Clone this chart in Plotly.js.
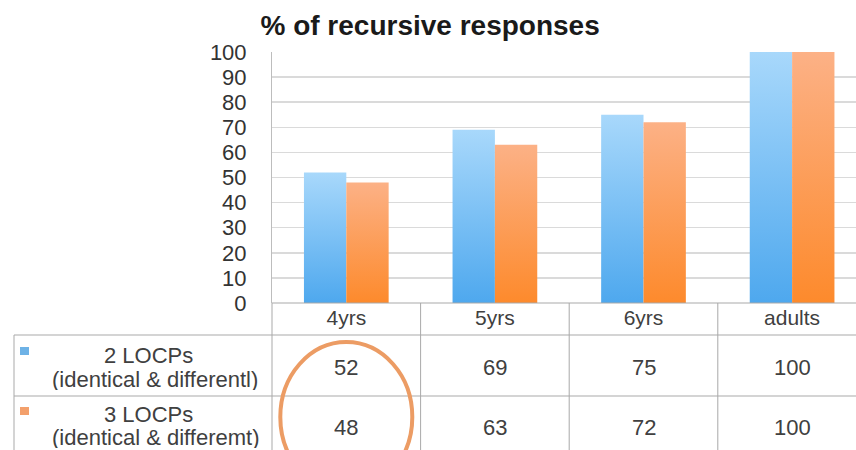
<!DOCTYPE html>
<html>
<head>
<meta charset="utf-8">
<script src="https://cdn.plot.ly/plotly-3.0.1.min.js"></script>
<style>html,body{margin:0;padding:0;background:#fff;overflow:hidden;}</style>
</head>
<body>
<div id="chart" style="width:856px;height:450px;"></div>
<script>
// ---- data ----
const categories = ['4yrs', '5yrs', '6yrs', 'adults'];
const series1Name = '2 LOCPs';
const series1Sub = '(identical & differentl)';
const series1Values = [52, 69, 75, 100];
const series2Name = '3 LOCPs';
const series2Sub = '(identical & differemt)';
const series2Values = [48, 63, 72, 100];
const yTicks = [0, 10, 20, 30, 40, 50, 60, 70, 80, 90, 100];

// ---- layout constants ----
const W = 856, H = 450;
const L = 272, R = 0, T = 52, B = 147;
const PW = W - L - R, PH = H - T - B;
const XMIN = -0.5, XMAX = 3.43;
const FONT = 'Liberation Sans, Arial, sans-serif';
const px = v => (v - L) / PW;          // pixel x -> paper
const py = v => (H - B - v) / PH;      // pixel y -> paper
const cx = v => (v - XMIN) / (XMAX - XMIN); // category value -> paper x
const lineCol = '#a9a9a9';

const traces = [
  {type: 'bar', name: series1Name, x: categories, y: series1Values,
   marker: {color: '#74bbf3', line: {width: 0}}, hoverinfo: 'none'},
  {type: 'bar', name: series2Name, x: categories, y: series2Values,
   marker: {color: '#fc9c55', line: {width: 0}}, hoverinfo: 'none'}
];

const shapes = [];
function hline(x0, x1, y) {
  shapes.push({type: 'line', xref: 'paper', yref: 'paper', x0: px(x0), x1: px(x1), y0: py(y), y1: py(y),
               line: {color: lineCol, width: 1}, layer: 'above'});
}
function vline(xp, y0, y1) {
  shapes.push({type: 'line', xref: 'paper', yref: 'paper', x0: xp, x1: xp, y0: py(y0), y1: py(y1),
               line: {color: lineCol, width: 1}, layer: 'above'});
}
// table grid
hline(L, W + 5, 303);
hline(14, W + 5, 335);
hline(14, W + 5, 396);
vline(px(14), 335, 460);
vline(0, 303, 460);
for (let i = 0; i < categories.length - 1; i++) vline(cx(i + 0.5), 303, 460);
// legend keys
shapes.push({type: 'rect', xref: 'paper', yref: 'paper', x0: px(20), x1: px(29), y0: py(347), y1: py(355),
             fillcolor: '#6eb2e6', line: {width: 0}});
shapes.push({type: 'rect', xref: 'paper', yref: 'paper', x0: px(20), x1: px(29), y0: py(407), y1: py(415),
             fillcolor: '#f3a06c', line: {width: 0}});
// highlight ellipse around the first column
const c0 = L + cx(0) * PW;
shapes.push({type: 'circle', xref: 'paper', yref: 'paper', x0: px(c0 - 66), x1: px(c0 + 66),
             y0: py(342), y1: py(492), line: {color: '#ec9c64', width: 4}, layer: 'above'});

const annotations = [];
const txtCol = '#404040';
function rowLabel(text, x, y) {
  annotations.push({xref: 'paper', yref: 'paper', x: px(x), y: py(y), text: text, showarrow: false,
                    xanchor: 'center', yanchor: 'middle', align: 'center', height: 22,
                    font: {family: FONT, size: 22, color: txtCol}});
}
rowLabel(series1Name, 148, 355);
rowLabel(series1Sub, 155, 379);
rowLabel(series2Name, 148, 414);
rowLabel(series2Sub, 155, 437);
categories.forEach((c, i) => {
  annotations.push({xref: 'x', yref: 'paper', x: c, y: py(367), text: String(series1Values[i]), showarrow: false,
                    xanchor: 'center', yanchor: 'middle', font: {family: FONT, size: 22, color: txtCol}});
  annotations.push({xref: 'x', yref: 'paper', x: c, y: py(427), text: String(series2Values[i]), showarrow: false,
                    xanchor: 'center', yanchor: 'middle', font: {family: FONT, size: 22, color: txtCol}});
});

const layout = {
  width: W, height: H,
  margin: {l: L, r: R, t: T, b: B, pad: 0},
  paper_bgcolor: '#fff', plot_bgcolor: '#fff',
  showlegend: false,
  barmode: 'group', bargap: 0.43, bargroupgap: 0,
  title: {text: '<b>% of recursive responses</b>', x: 0.5025, xref: 'container', xanchor: 'center',
          y: 1 - 25 / H, yref: 'container', yanchor: 'middle',
          font: {family: FONT, size: 28, color: '#1a1a1a'}},
  xaxis: {type: 'category', range: [XMIN, XMAX], showgrid: false, zeroline: false, showline: false,
          ticks: '',
          tickfont: {family: FONT, size: 21, color: txtCol}, fixedrange: true},
  yaxis: {range: [0, 100], tickvals: yTicks, showgrid: true, gridcolor: '#dadada', gridwidth: 1.5,
          zeroline: false, showline: true, linecolor: '#bdbdbd', linewidth: 1,
          ticks: '', ticklabelstandoff: 20,
          tickfont: {family: FONT, size: 22, color: '#333'}, fixedrange: true},
  shapes: shapes,
  annotations: annotations
};

Plotly.newPlot('chart', traces, layout, {displayModeBar: false, staticPlot: true}).then(gd => {
  const NS = 'http://www.w3.org/2000/svg';
  const svg = gd.querySelector('.main-svg');
  let defs = svg.querySelector('defs');
  if (!defs) { defs = document.createElementNS(NS, 'defs'); svg.insertBefore(defs, svg.firstChild); }
  const grads = [['gBlue', '#a8d8fb', '#4ea8ee'], ['gOrange', '#fcb186', '#fd8a2c']];
  grads.forEach(([id, c1, c2]) => {
    const g = document.createElementNS(NS, 'linearGradient');
    g.setAttribute('id', id); g.setAttribute('x1', '0'); g.setAttribute('y1', '0');
    g.setAttribute('x2', '0'); g.setAttribute('y2', '1');
    [[0, c1], [1, c2]].forEach(([o, c]) => {
      const s = document.createElementNS(NS, 'stop');
      s.setAttribute('offset', String(o)); s.setAttribute('stop-color', c);
      g.appendChild(s);
    });
    defs.appendChild(g);
  });
  gd.querySelectorAll('.barlayer .trace').forEach((tr, k) => {
    tr.querySelectorAll('path').forEach(p => { p.style.fill = 'url(#' + grads[k][0] + ')'; });
  });
});
</script>
</body>
</html>
